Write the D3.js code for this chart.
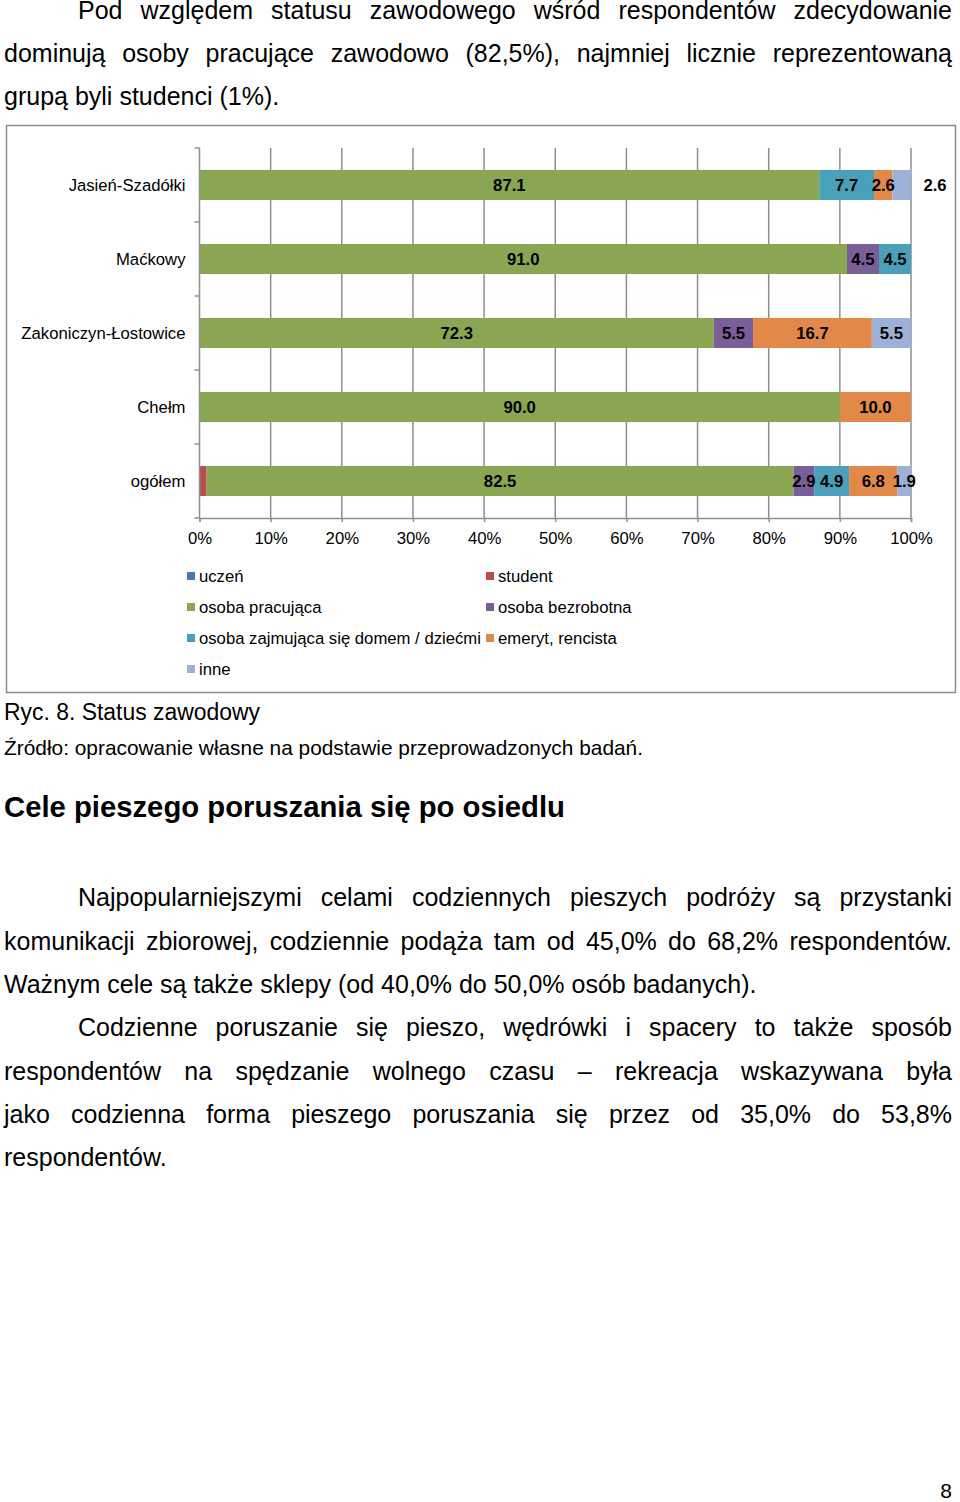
<!DOCTYPE html>
<html><head><meta charset="utf-8">
<script src="https://cdn.jsdelivr.net/npm/d3@7"></script>
<style>
html,body{margin:0;padding:0;background:#fff;}
svg{display:block;}
text{font-family:"Liberation Sans",Arial,sans-serif;}
</style></head>
<body>
<svg id="page" width="960" height="1502"></svg>
<script>
// ---------- DATA ----------
const categories = ["Jasień-Szadółki","Maćkowy","Zakoniczyn-Łostowice","Chełm","ogółem"];
const seriesNames = ["uczeń","student","osoba pracująca","osoba bezrobotna","osoba zajmująca się domem / dziećmi","emeryt, rencista","inne"];
const uczen      = [0,   0,   0,   0,   0];
const student    = [0,   0,   0,   0,   1.0];
const pracujaca  = [87.1,91.0,72.3,90.0,82.5];
const bezrobotna = [0,   4.5, 5.5, 0,   2.9];
const domem      = [7.7, 4.5, 0,   0,   4.9];
const emeryt     = [2.6, 0,   16.7,10.0,6.8];
const inne       = [2.6, 0,   5.5, 0,   1.9];
const xTicks = [0,10,20,30,40,50,60,70,80,90,100];
const colors = ["#4a78b0","#b94f4c","#8ba652","#7a5e98","#4aa0b8","#e2894a","#9db1d7"];
const outsideLabels = [["Jasień-Szadółki","inne"]];

const valuesBySeries = [uczen,student,pracujaca,bezrobotna,domem,emeryt,inne];
const rows = categories.map((c,i)=>{const o={cat:c}; seriesNames.forEach((s,j)=>o[s]=valuesBySeries[j][i]); return o;});

// ---------- TEXT ----------
const para1 = [
  {t:"Pod względem statusu zawodowego wśród respondentów zdecydowanie", x:78, j:true, y:19},
  {t:"dominują osoby pracujące zawodowo (82,5%), najmniej licznie reprezentowaną", x:4, j:true, y:62},
  {t:"grupą byli studenci (1%).", x:4, j:false, y:105}
];
const para2 = [
  {t:"Najpopularniejszymi celami codziennych pieszych podróży są przystanki", x:78, j:true, y:906},
  {t:"komunikacji zbiorowej, codziennie podąża tam od 45,0% do 68,2% respondentów.", x:4, j:true, y:950},
  {t:"Ważnym cele są także sklepy (od 40,0% do 50,0% osób badanych).", x:4, j:false, y:993},
  {t:"Codzienne poruszanie się pieszo, wędrówki i spacery to także sposób", x:78, j:true, y:1036},
  {t:"respondentów na spędzanie wolnego czasu – rekreacja wskazywana była", x:4, j:true, y:1080},
  {t:"jako codzienna forma pieszego poruszania się przez od 35,0% do 53,8%", x:4, j:true, y:1123},
  {t:"respondentów.", x:4, j:false, y:1166}
];

const svg = d3.select("#page");
const RIGHT = 952, FS = 25;

function drawLine(L){
  const words = L.t.split(" ");
  const g = svg.append("g");
  const nodes = words.map(w=>g.append("text").attr("y",L.y).attr("font-size",FS).attr("fill","#000").text(w));
  const widths = nodes.map(n=>n.node().getComputedTextLength());
  const sp = g.append("text").attr("font-size",FS).text("a a");
  const spw = sp.node().getComputedTextLength() - 2*g.append("text").attr("font-size",FS).text("a").node().getComputedTextLength();
  let gap = spw;
  if(L.j && words.length>1){ gap = (RIGHT - L.x - d3.sum(widths))/(words.length-1); }
  let x = L.x;
  nodes.forEach((n,i)=>{ n.attr("x",x); x += widths[i] + gap; });
  g.selectAll("text").filter(function(){return !this.hasAttribute("x");}).remove();
}
para1.forEach(drawLine);
para2.forEach(drawLine);

svg.append("text").attr("x",4).attr("y",817).attr("font-size",29.5).attr("font-weight","bold")
  .attr("textLength",561).attr("lengthAdjust","spacingAndGlyphs").text("Cele pieszego poruszania się po osiedlu");
svg.append("text").attr("x",4).attr("y",720).attr("font-size",23)
  .attr("textLength",256).attr("lengthAdjust","spacingAndGlyphs").text("Ryc. 8. Status zawodowy");
svg.append("text").attr("x",4).attr("y",755).attr("font-size",21)
  .attr("textLength",639).attr("lengthAdjust","spacingAndGlyphs").text("Źródło: opracowanie własne na podstawie przeprowadzonych badań.");
svg.append("text").attr("x",952).attr("y",1498).attr("font-size",21).attr("text-anchor","end").text("8");

// ---------- CHART ----------
svg.append("rect").attr("x",6.5).attr("y",125.5).attr("width",949).attr("height",567)
  .attr("fill","#fff").attr("stroke","#8c8c8c").attr("stroke-width",1.5);

const x = d3.scaleLinear().domain([0,100]).range([199.5,911]);
const y = d3.scaleBand().domain(categories).range([148,518]).paddingInner(0.5946).paddingOuter(0.2973);
const chart = svg.append("g");

// gridlines
chart.append("g").selectAll("line").data(xTicks.slice(1)).join("line")
  .attr("x1",d=>x(d)).attr("x2",d=>x(d)).attr("y1",148).attr("y2",518)
  .attr("stroke","#8f8f8f").attr("stroke-width",1.5);

// stacked bars
const stack = d3.stack().keys(seriesNames)(rows);
const layers = chart.append("g").selectAll("g").data(stack).join("g").attr("fill",(d,i)=>colors[i]);
layers.selectAll("rect").data(d=>d.map(v=>({v,key:d.key}))).join("rect")
  .attr("x",d=>x(d.v[0])).attr("width",d=>x(d.v[1])-x(d.v[0]))
  .attr("y",d=>y(d.v.data.cat)).attr("height",y.bandwidth());

// axes
const yAxisG = chart.append("g").attr("transform",`translate(${x(0)},0)`);
yAxisG.append("line").attr("y1",148).attr("y2",518).attr("stroke","#8f8f8f").attr("stroke-width",1.5);
const bounds = categories.map(c=>y(c)-y.step()*y.paddingInner()/2).concat([518]);
yAxisG.selectAll(".tk").data(bounds).join("line").attr("x1",-5).attr("x2",0)
  .attr("y1",d=>Math.round(d)).attr("y2",d=>Math.round(d)).attr("stroke","#8f8f8f").attr("stroke-width",1.5);
yAxisG.selectAll(".lbl").data(categories).join("text")
  .attr("x",-14).attr("y",d=>y(d)+y.bandwidth()/2+6).attr("text-anchor","end")
  .attr("font-size",16.7).attr("fill","#000").text(d=>d);

const xAxis = d3.axisBottom(x).tickValues(xTicks).tickFormat(d=>d+"%").tickSize(4).tickPadding(10);
const xg = chart.append("g").attr("transform","translate(0,518)").call(xAxis);
xg.select(".domain").attr("stroke","#8f8f8f").attr("stroke-width",1.5);
xg.selectAll(".tick line").attr("stroke","#8f8f8f").attr("stroke-width",1.5);
xg.selectAll(".tick text").attr("font-size",16.7).attr("font-family","Liberation Sans, Arial, sans-serif").attr("fill","#000");

// data labels
const isOutside = (cat,key)=>outsideLabels.some(o=>o[0]===cat&&o[1]===key);
const labelData = [];
stack.forEach(layer=>layer.forEach(v=>{
  const val = v[1]-v[0];
  if(val>=1.5) labelData.push({cat:v.data.cat,key:layer.key,val,x0:v[0],x1:v[1]});
}));
chart.append("g").selectAll("text").data(labelData).join("text")
  .attr("x",d=>isOutside(d.cat,d.key)? x(100)+24 : x((d.x0+d.x1)/2))
  .attr("y",d=>y(d.cat)+y.bandwidth()/2+6)
  .attr("text-anchor","middle").attr("font-size",16.7).attr("font-weight","bold").attr("fill","#000")
  .text(d=>d.val.toFixed(1));

// legend
const legendPos = [[187,576],[486,576],[187,607],[486,607],[187,638],[486,638],[187,669]];
const lg = chart.append("g").selectAll("g").data(seriesNames).join("g")
  .attr("transform",(d,i)=>`translate(${legendPos[i][0]},${legendPos[i][1]})`);
lg.append("rect").attr("x",0).attr("y",-4).attr("width",8).attr("height",8).attr("fill",(d,i)=>colors[i]);
lg.append("text").attr("x",12).attr("y",6).attr("font-size",16.7).attr("fill","#000").text(d=>d);
</script>
</body></html>
